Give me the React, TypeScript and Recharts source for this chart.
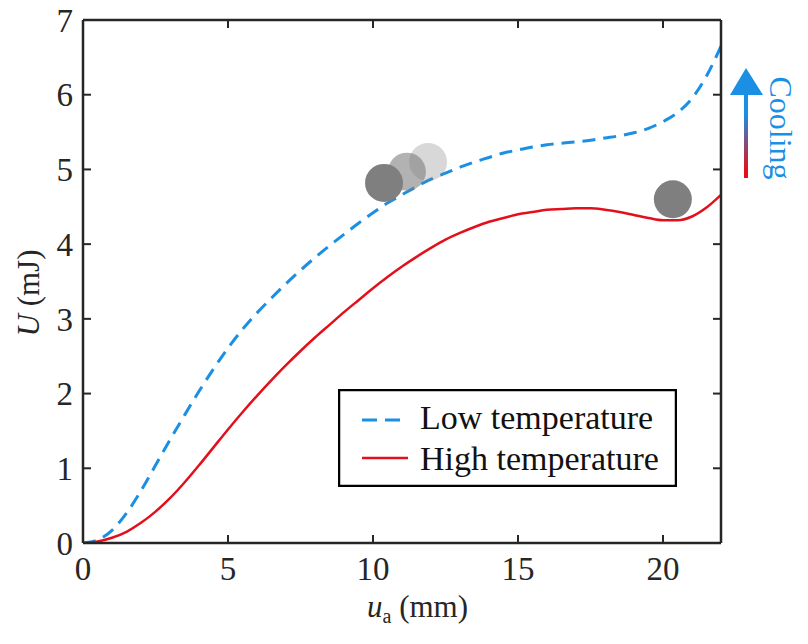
import React from 'react';
import { ComposedChart, Line, Scatter, XAxis, YAxis, Legend } from 'recharts';

// displacement u_a (mm)
const uValues = [
  0, 0.5, 1, 1.5, 2, 2.5, 3, 3.5, 4, 4.5, 5, 5.5, 6, 6.5, 7, 7.5, 8, 8.5, 9, 9.5, 10,
  10.5, 11, 11.5, 12, 12.5, 13, 13.5, 14, 14.5, 15, 15.5, 16, 16.5, 17, 17.5, 18, 18.5,
  19, 19.5, 20, 20.5, 21, 21.5, 22,
];

// energy U (mJ)
const lowTemp = [
  0, 0.04, 0.17, 0.4, 0.7, 1.04, 1.38, 1.71, 2.03, 2.33, 2.61, 2.86, 3.08, 3.28, 3.47,
  3.65, 3.82, 3.98, 4.13, 4.28, 4.42, 4.55, 4.66, 4.77, 4.87, 4.95, 5.03, 5.1, 5.16,
  5.22, 5.26, 5.3, 5.33, 5.35, 5.37, 5.39, 5.42, 5.45, 5.49, 5.55, 5.64, 5.76, 5.95,
  6.25, 6.65,
];
const highTemp = [
  0, 0.02, 0.07, 0.15, 0.27, 0.42, 0.6, 0.81, 1.04, 1.28, 1.52, 1.75, 1.97, 2.18, 2.38,
  2.57, 2.75, 2.92, 3.09, 3.25, 3.41, 3.56, 3.7, 3.83, 3.95, 4.06, 4.15, 4.23, 4.3,
  4.35, 4.4, 4.43, 4.46, 4.47, 4.48, 4.48, 4.46, 4.43, 4.39, 4.35, 4.32, 4.32, 4.37,
  4.49, 4.66,
];

// grey balls (light, medium, dark, right)
const ballU = [11.9, 11.17, 10.38, 20.34];
const ballEnergy = [5.1, 4.97, 4.82, 4.6];
const ballAlpha = [0.3, 0.6, 1, 1];

const xTicks = [0, 5, 10, 15, 20];
const yTicks = [0, 1, 2, 3, 4, 5, 6, 7];

const lineData = uValues.map((u, i) => ({ u, low: lowTemp[i], high: highTemp[i] }));
const ballData = ballU.map((u, i) => ({ u, U: ballEnergy[i], alpha: ballAlpha[i] }));

const FONT = '"Liberation Serif", "Times New Roman", serif';
const INK = '#262626';
const BLUE = '#1a8fe3';
const RED = '#e3101c';
const TICK = 8;

const BottomTick = (props: any) => {
  const { x, y, payload } = props;
  const axisY = y - 14;
  return (
    <g>
      <line x1={x} x2={x} y1={axisY} y2={axisY - TICK} stroke={INK} strokeWidth={2} />
      <text x={x} y={y} dy="0.71em" textAnchor="middle" fill={INK} fontSize={33} fontFamily={FONT}>
        {payload.value}
      </text>
    </g>
  );
};

const LeftTick = (props: any) => {
  const { x, y, payload } = props;
  const axisX = x + 10;
  return (
    <g>
      <line x1={axisX} x2={axisX + TICK} y1={y} y2={y} stroke={INK} strokeWidth={2} />
      <text x={x} y={y} dy="0.355em" textAnchor="end" fill={INK} fontSize={33} fontFamily={FONT}>
        {payload.value}
      </text>
    </g>
  );
};

const TopTick = (props: any) => (
  <line x1={props.x} x2={props.x} y1={props.y} y2={props.y + TICK} stroke={INK} strokeWidth={2} />
);

const RightTick = (props: any) => (
  <line x1={props.x} x2={props.x - TICK} y1={props.y} y2={props.y} stroke={INK} strokeWidth={2} />
);

const Ball = (props: any) => (
  <circle cx={props.cx} cy={props.cy} r={19} fill="#7f7f7f" fillOpacity={props.payload.alpha} />
);

const LegendBox = () => (
  <svg width={339} height={98} style={{ display: 'block' }}>
    <rect x={1} y={1} width={337} height={96} fill="#fff" stroke="#000" strokeWidth={2.5} />
    <line x1={24} x2={70} y1={31} y2={31} stroke={BLUE} strokeWidth={3} strokeDasharray="15 8" />
    <line x1={24} x2={70} y1={69} y2={69} stroke={RED} strokeWidth={2.5} />
    <text x={82} y={40} fontSize={34} fontFamily={FONT} fill="#111">Low temperature</text>
    <text x={82} y={81} fontSize={34} fontFamily={FONT} fill="#111">High temperature</text>
  </svg>
);

const axisLine = { stroke: INK, strokeWidth: 2.5 };

export default function App() {
  return (
    <div style={{ position: 'relative', width: 808, height: 644, margin: -8 }}>
      <ComposedChart
        width={808}
        height={644}
        data={lineData}
        margin={{ top: 10, right: 0, bottom: 0, left: 0 }}
      >
        <XAxis
          dataKey="u"
          type="number"
          domain={[0, 22]}
          ticks={xTicks}
          interval={0}
          height={101}
          axisLine={axisLine}
          tickLine={false}
          tickSize={0}
          tickMargin={14}
          tick={BottomTick}
          allowDataOverflow
        />
        <XAxis
          xAxisId="top"
          orientation="top"
          dataKey="u"
          type="number"
          domain={[0, 22]}
          ticks={xTicks}
          interval={0}
          height={10}
          axisLine={axisLine}
          tickLine={false}
          tickSize={0}
          tickMargin={0}
          tick={TopTick}
          allowDataOverflow
        />
        <YAxis
          type="number"
          domain={[0, 7]}
          ticks={yTicks}
          interval={0}
          width={83}
          axisLine={axisLine}
          tickLine={false}
          tickSize={0}
          tickMargin={10}
          tick={LeftTick}
          allowDataOverflow
        />
        <YAxis
          yAxisId="right"
          orientation="right"
          type="number"
          domain={[0, 7]}
          ticks={yTicks}
          interval={0}
          width={87}
          axisLine={axisLine}
          tickLine={false}
          tickSize={0}
          tickMargin={0}
          tick={RightTick}
          allowDataOverflow
        />
        <Line
          dataKey="low"
          type="monotone"
          stroke={BLUE}
          strokeWidth={3}
          strokeDasharray="13 8"
          dot={false}
          isAnimationActive={false}
        />
        <Line
          dataKey="high"
          type="monotone"
          stroke={RED}
          strokeWidth={2.5}
          dot={false}
          isAnimationActive={false}
        />
        <Scatter data={ballData} dataKey="U" shape={Ball} isAnimationActive={false} />
        <Legend
          content={() => <LegendBox />}
          layout="vertical"
          align="center"
          verticalAlign="middle"
          wrapperStyle={{ left: 338, top: 389, width: 339, height: 98 }}
        />
      </ComposedChart>

      <svg
        width={808}
        height={644}
        style={{ position: 'absolute', left: 0, top: 0, pointerEvents: 'none' }}
      >
        <defs>
          <linearGradient id="coolGrad" x1="0" y1="0" x2="0" y2="1">
            <stop offset="0.25" stopColor={BLUE} />
            <stop offset="0.9" stopColor={RED} />
          </linearGradient>
        </defs>
        <text
          transform="translate(28 293) rotate(-90)"
          textAnchor="middle"
          dominantBaseline="central"
          fontSize={31}
          fontFamily={FONT}
          fill={INK}
        >
          <tspan fontStyle="italic">U</tspan> (mJ)
        </text>
        <text x={367} y={617} fontSize={31} fontFamily={FONT} fill={INK}>
          <tspan fontStyle="italic">u</tspan>
          <tspan fontSize={20} dy={6}>a</tspan>
          <tspan dy={-6}> (mm)</tspan>
        </text>
        <rect x={744} y={93} width={4} height={85} fill="url(#coolGrad)" />
        <polygon points="746,68 730,95 763,95" fill={BLUE} />
        <text
          transform="translate(781 128) rotate(90)"
          textAnchor="middle"
          dominantBaseline="central"
          fontSize={32}
          fontFamily={FONT}
          fill={BLUE}
        >
          Cooling
        </text>
      </svg>
    </div>
  );
}
